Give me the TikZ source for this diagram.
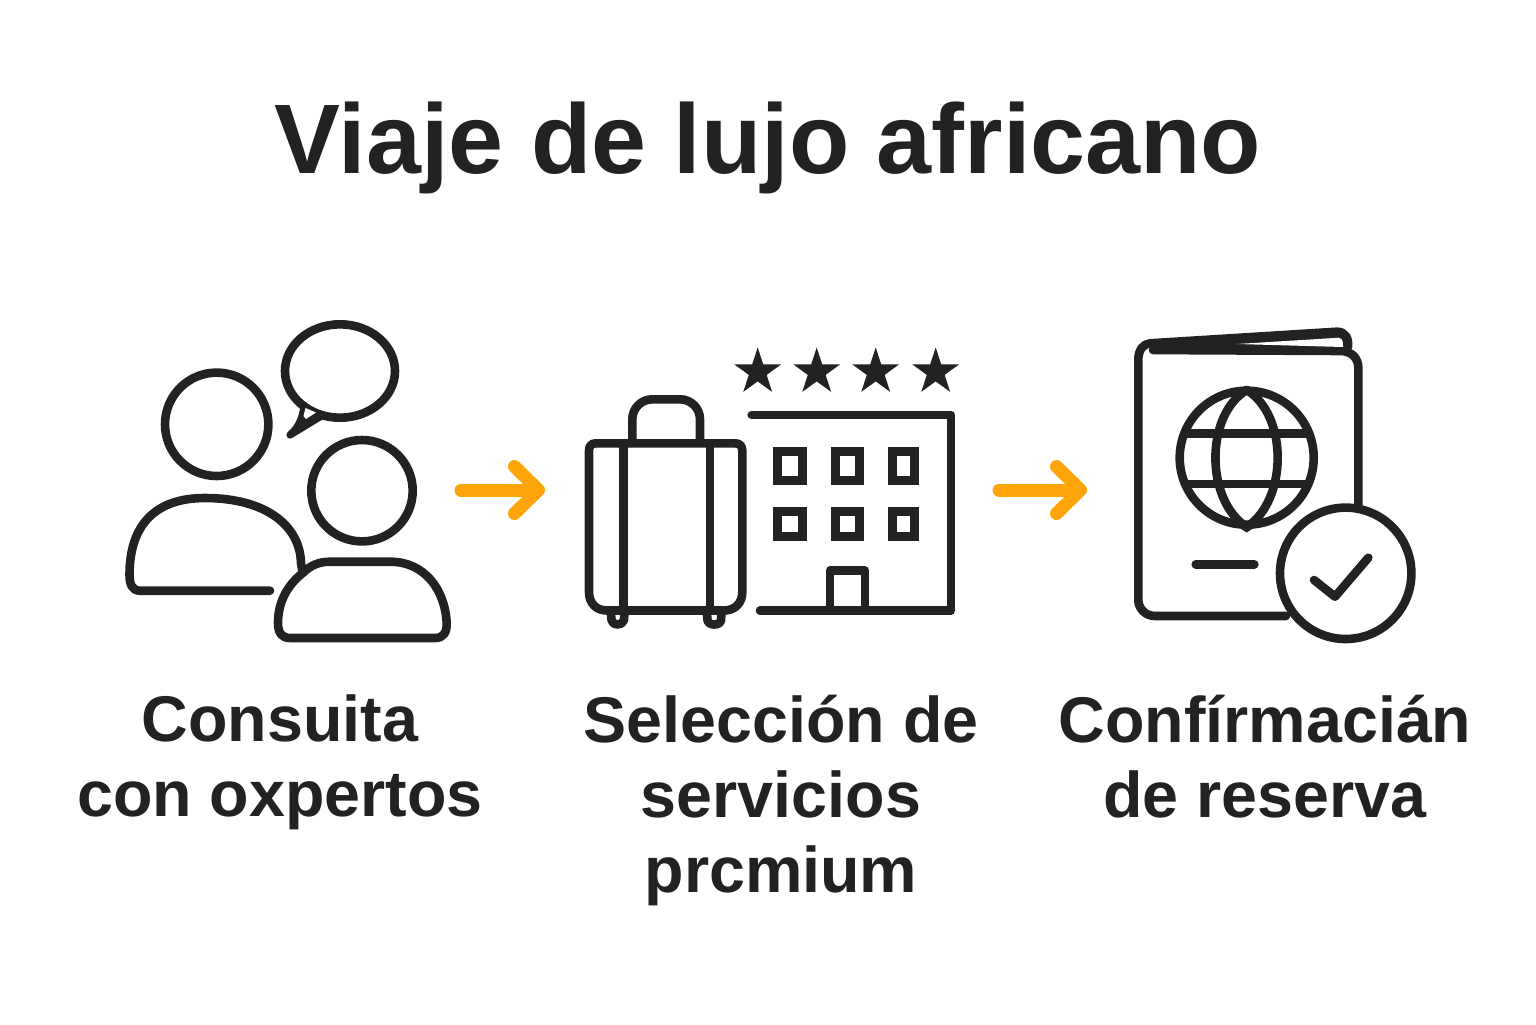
\documentclass[tikz,border=0pt]{standalone}
\usepackage{fontspec}
\setmainfont{Liberation Sans}
\usetikzlibrary{arrows.meta}
\definecolor{ink}{HTML}{222222}
\definecolor{amber}{HTML}{FFA50A}
\tikzset{
  x=0.5pt,y=-0.5pt,
  icon/.style={draw=ink,line width=4.3pt,line cap=round,line join=round},
  headline/.style={text=ink,font=\bfseries\fontsize{49.4}{60}\selectfont,inner sep=0pt},
  caption/.style={text=ink,align=center,inner sep=0pt,font=\bfseries\fontsize{32.3}{37.5}\selectfont},
  flow/.style={draw=amber,line width=6.5pt,line cap=round,line join=round,
    -{Straight Barb[length=12pt,width=23.5pt,round]}},
}
\begin{document}
\begin{tikzpicture}
\useasboundingbox[fill=white] (0,0) rectangle (1536,1024);
% title
\node[headline,anchor=base] (title) at (768,173) {Viaje de lujo africano};
% --- people icon
\draw[icon] (216.7,424.3) circle (51.7);
\draw[icon] (362,490.7) circle (50.7);
% speech bubble
\draw[icon] (340,371) ellipse (55 and 46.7);
\fill[ink] (301,403) -- (326,416) -- (311,424) -- (291,437) .. controls (298,428) and (300,415) .. (301,403) -- cycle;
\draw[icon,line width=3.6pt] (304,405) .. controls (303,418) and (298,428) .. (290,435) -- (323,415);
\fill[white] (305.5,408) -- (316,412.5) -- (306,419) -- (303.5,416) -- cycle;
% body 1
\draw[icon] (270,590.7) -- (140,590.7) .. controls (132,590.7) and (129.5,584) .. (129.5,575)
  .. controls (129.5,525) and (155,498) .. (205,498)
  .. controls (265,498) and (300,525) .. (301,563) -- (302.7,573);
% body 2
\draw[icon] (302.7,573) .. controls (285,587) and (278,605) .. (278,623)
  .. controls (278,633) and (282,638) .. (290,638) -- (435,638)
  .. controls (443,638) and (447,633) .. (446.7,623)
  .. controls (445,590) and (425,561.7) .. (390,561.7)
  -- (330,561.7) .. controls (318,561.7) and (310,566) .. (302.7,573);
% --- arrow 1
\coordinate (flowAstart) at (461,490);
\coordinate (flowAend) at (545,490);
\draw[flow] (flowAstart) -- (flowAend);
% --- luggage
\draw[icon,rounded corners=10pt] (632.3,443) -- (632.3,399.3) -- (700,399.3) -- (700,443);
\draw[icon] (610.7,611) -- (611.5,620) .. controls (612,626) and (623,626) .. (624,620) -- (624.5,611);
\draw[icon] (706.7,611) -- (707.5,620) .. controls (708,626) and (720.5,626) .. (721,620) -- (721.7,611);
\draw[icon,fill=white] (596,443.3) -- (735,443.3) .. controls (740,443.3) and (742.3,446) .. (742.3,451)
  -- (742.3,592) .. controls (742.3,604) and (734,610.5) .. (724,610.5)
  -- (607,610.5) .. controls (597,610.5) and (589,604) .. (589,592)
  -- (589,451) .. controls (589,446) and (591,443.3) .. (596,443.3) -- cycle;
\draw[icon] (623.3,443.3) -- (623.3,610.5);
\draw[icon] (710,443.3) -- (710,610.5);
% --- stars
\foreach \sx in {757.7,816.7,875.7,935.7}{
  \fill[ink] (\sx,372) +(-90:24.5) -- +(-54:9.4) -- +(-18:24.5) -- +(18:9.4) -- +(54:24.5)
     -- +(90:9.4) -- +(126:24.5) -- +(162:9.4) -- +(198:24.5) -- +(234:9.4) -- cycle;
}
% --- hotel
\draw[icon] (751.7,415) -- (951,415) -- (951,610.7) -- (760,610.7);
\draw[icon,line cap=butt] (830,610.7) -- (830,570.7) -- (865,570.7) -- (865,610.7);
\foreach \wx/\wb in {777.3/802,835/859,892.7/914.7}{
  \draw[icon,line width=4.5pt,line join=miter] (\wx,451.7) rectangle (\wb,480);
  \draw[icon,line width=4.5pt,line join=miter] (\wx,511.7) rectangle (\wb,536.3);
}
% --- arrow 2
\coordinate (flowBstart) at (999,490);
\coordinate (flowBend) at (1087,490);
\draw[flow] (flowBstart) -- (flowBend);
% --- passport
\fill[ink] (1150,343.3) -- (1336.7,331.7) -- (1347,335) -- (1347,351) -- (1153,350) -- cycle;
\draw[icon] (1286,616) -- (1155,616) .. controls (1145,616) and (1138.3,608) .. (1138.3,600)
  -- (1138.3,360) .. controls (1138.3,350) and (1143,344) .. (1150,343.3)
  -- (1336.7,331.7) .. controls (1345,331.5) and (1349,338) .. (1348,347);
\draw[icon] (1153,350) -- (1342,351) .. controls (1352,352) and (1358.3,358) .. (1358.3,368) -- (1358.3,505);
\fill[white] (1237,344) -- (1339,337.7) .. controls (1342,338) and (1343,340) .. (1343,347) -- cycle;
% globe
\draw[icon] (1246.7,457.7) circle (67);
\draw[icon] (1246.7,390) .. controls (1205,415) and (1205,500) .. (1246.7,527)
  .. controls (1288,500) and (1288,415) .. (1246.7,390) -- cycle;
\draw[icon,line cap=butt] (1186,433.3) -- (1307,433.3);
\draw[icon,line cap=butt] (1185,484) -- (1308,484);
\fill[ink] (1235,525) -- (1258,525) -- (1246.7,532.5) -- cycle;
\fill[ink] (1237,389) -- (1256,389) -- (1246.7,386) -- cycle;
% line on cover
\draw[icon] (1195.7,564.3) -- (1254.3,564.3);
% badge
\draw[icon,fill=white] (1345.7,573.3) circle (65.7);
\draw[icon] (1314,580) -- (1335,596.7) -- (1368.3,557.7);
% --- captions
\node[caption,anchor=center] (capA) at (280,762) {Consuita\\con oxpertos};
\node[caption,anchor=center] (capB) at (781,800) {Selección de\\servicios\\prcmium};
\node[caption,anchor=center] (capC) at (1265,757) {Confírmacián\\de reserva};
\end{tikzpicture}
\end{document}
